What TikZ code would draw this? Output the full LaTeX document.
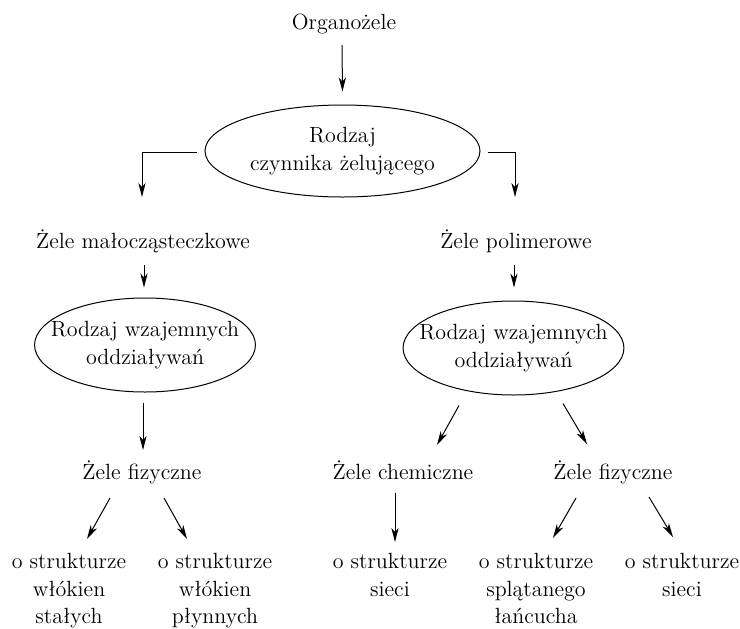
\documentclass[tikz,border=0pt]{standalone}
\usepackage{tikz}
\usetikzlibrary{arrows.meta,shapes.geometric,calc}

\begin{document}
\begin{tikzpicture}[x=0.5pt, y=-0.5pt, > = {Stealth[length=7pt,width=3.6pt,inset=2pt]}, lbl/.style = {font=\fontsize{11}{13.7}\selectfont, inner sep=0pt, align=center}, kind/.style = {lbl, draw, ellipse, line width=0.5pt, inner xsep=-8pt}, arr/.style = {->, line width=0.5pt}]

    \useasboundingbox (0,0) rectangle (740,628);

    % top
    \node[lbl, anchor=base] (org) at (344,29) {Organożele};
    \node[kind, minimum width=137.5pt, minimum height=46pt] (r1) at (342.5,151) {Rodzaj\\czynnika żelującego};
    \node[lbl, anchor=base] (zm) at (143,248) {Żele małocząsteczkowe};
    \node[lbl, anchor=base] (zp) at (516,248) {Żele polimerowe};

    % kinds of interaction
    \node[kind, minimum width=106.5pt, minimum height=47pt] (r2) at (145,345) {Rodzaj wzajemnych\\oddziaływań};
    \node[kind, minimum width=106.5pt, minimum height=47pt] (r3) at (513.5,348) {Rodzaj wzajemnych\\oddziaływań};

    % gels
    \node[lbl, anchor=base] (fz1) at (142,479) {Żele fizyczne};
    \node[lbl, anchor=base] (ch) at (403,479) {Żele chemiczne};
    \node[lbl, anchor=base] (fz2) at (613,479) {Żele fizyczne};

    % structures
    \node[lbl, anchor=north] (s1) at (69,553) {o strukturze\\włókien\\stałych};
    \node[lbl, anchor=north] (s2) at (215,553) {o strukturze\\włókien\\płynnych};
    \node[lbl, anchor=north] (s3) at (390,553) {o strukturze\\sieci};
    \node[lbl, anchor=north] (s4) at (536,553) {o strukturze\\splątanego\\łańcucha};
    \node[lbl, anchor=north] (s5) at (682,553) {o strukturze\\sieci};

    % arrows
    \draw[arr] ($(org.base)+(-2,16)$) -- ($(r1.north)+(0,-13)$);
    \draw[arr] ($(r1.west)+(-8,1)$) -| ($(zm.base)+(-1,-51)$);
    \draw[arr] ($(r1.east)+(7,1)$) -| ($(zp.base)+(-1,-51)$);
    \draw[arr] ($(zm.base)+(1,17)$) -- ($(r2.north)+(-1,-10)$);
    \draw[arr] ($(zp.base)+(-2,17)$) -- ($(r3.north)+(0.5,-13)$);
    \draw[arr] ($(r2.south)+(-2,10)$) -- ($(fz1.base)+(1,-29)$);
    \draw[arr] ($(r3.south)+(-54.5,10)$) -- ($(ch.base)+(34,-34)$);
    \draw[arr] ($(r3.south)+(49.5,8)$) -- ($(fz2.base)+(-26,-35)$);
    \draw[arr] ($(fz1.base)+(-32,19)$) -- ($(s1.north)+(18,-14)$);
    \draw[arr] ($(fz1.base)+(22,19)$) -- ($(s2.north)+(-28,-14)$);
    \draw[arr] ($(ch.base)+(-8,14)$) -- ($(s3.north)+(5,-11)$);
    \draw[arr] ($(fz2.base)+(-37,19)$) -- ($(s4.north)+(17,-15)$);
    \draw[arr] ($(fz2.base)+(36,18)$) -- ($(s5.north)+(-9,-16)$);

\end{tikzpicture}
\end{document}
